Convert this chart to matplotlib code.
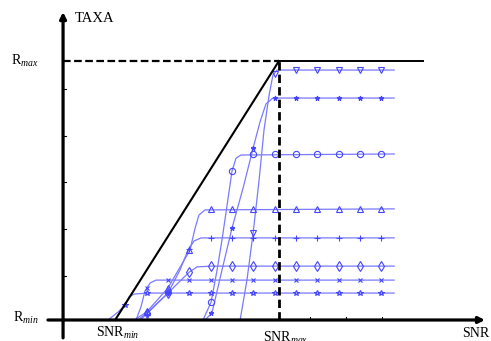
import matplotlib
matplotlib.use("Agg")
import matplotlib.pyplot as plt

plt.rcParams['font.family'] = ['Liberation Serif', 'DejaVu Serif']
plt.rcParams['mathtext.fontset'] = 'custom'
plt.rcParams['mathtext.rm'] = 'Liberation Serif'
plt.rcParams['mathtext.it'] = 'Liberation Serif:italic'
plt.rcParams['lines.scale_dashes'] = False

# ---- schematic limits (SNR in arbitrary steps, rate normalised Rmin=0, Rmax=1)
snr_min = 0.52
snr_max = 8.2
r_min = 0.0
r_max = 1.0
plateau_end = 13.6
rmax_line_end = 14.96
axis_x = -1.92
x_axis_start = -2.63
x_axis_end = 17.86
y_axis_bottom = -0.069
y_axis_top = 1.189
ytick_vals = [0.892, 0.710, 0.533, 0.351, 0.170]
xtick_vals = [9.66, 11.35, 13.03]

# ---- curve data (x, y) and marker data for each scheme
stars_x = [0.19, 0.66, 1.0, 1.17, 1.41, 2.0, 13.6]
stars_y = [0.0, 0.031, 0.058, 0.089, 0.100, 0.104, 0.104]
stars_mx = [1, 2, 3, 4, 5, 6, 7, 8, 9, 10, 11, 12, 13]
stars_my = [0.058] + [0.104] * 12

xm_x = [1.5, 1.73, 1.92, 2.16, 2.44, 13.6]
xm_y = [0.0, 0.050, 0.112, 0.143, 0.154, 0.154]
xm_mx = [2, 3, 4, 5, 6, 7, 8, 9, 10, 11, 12, 13]
xm_my = [0.125] + [0.154] * 11

dia_x = [1.59, 2.0, 3.0, 3.66, 4.0, 4.36, 5.0, 13.6]
dia_y = [0.0, 0.027, 0.104, 0.158, 0.185, 0.205, 0.208, 0.208]
dia_mx = [2, 3, 4, 5, 6, 7, 8, 9, 10, 11, 12, 13]
dia_my = [0.027, 0.104, 0.185] + [0.208] * 9

plus_x = [1.69, 2.0, 3.0, 3.56, 3.94, 4.22, 4.55, 13.6]
plus_y = [0.0, 0.023, 0.104, 0.193, 0.270, 0.305, 0.317, 0.317]
plus_mx = [2, 3, 4, 5, 6, 7, 8, 9, 10, 11, 12, 13]
plus_my = [0.023, 0.104, 0.275] + [0.317] * 9

tri_x = [1.41, 2.0, 3.0, 4.03, 4.27, 4.45, 4.73, 13.6]
tri_y = [0.0, 0.031, 0.124, 0.270, 0.355, 0.405, 0.425, 0.429]
tri_mx = [2, 3, 4, 5, 6, 7, 8, 9, 10, 11, 12, 13]
tri_my = [0.031, 0.124, 0.270] + [0.429] * 9

circ_x = [4.64, 5.02, 5.3, 5.53, 5.77, 6.0, 6.19, 6.42, 13.6]
circ_y = [0.0, 0.069, 0.193, 0.309, 0.444, 0.575, 0.625, 0.637, 0.641]
circ_mx = [5, 6, 7, 8, 9, 10, 11, 12, 13]
circ_my = [0.069, 0.575] + [0.641] * 7

ast_x = [4.73, 5.06, 5.53, 6.0, 6.52, 6.99, 7.31, 7.59, 7.92, 13.6]
ast_y = [0.0, 0.027, 0.193, 0.355, 0.510, 0.664, 0.764, 0.834, 0.857, 0.857]
ast_mx = [5, 6, 7, 8, 9, 10, 11, 12, 13]
ast_my = [0.027, 0.355, 0.664] + [0.857] * 6

tdn_x = [6.38, 6.7, 6.99, 7.27, 7.5, 7.74, 7.92, 8.11, 13.6]
tdn_y = [0.0, 0.154, 0.336, 0.541, 0.734, 0.869, 0.946, 0.965, 0.965]
tdn_mx = [7, 8, 9, 10, 11, 12, 13]
tdn_my = [0.336, 0.95] + [0.965] * 5

series = [
    (stars_x, stars_y, stars_mx, stars_my, '*', 4.0, 'none'),
    (xm_x, xm_y, xm_mx, xm_my, 'x', 3.0, 'none'),
    (dia_x, dia_y, dia_mx, dia_my, 'd', 5.0, 'none'),
    (plus_x, plus_y, plus_mx, plus_my, '+', 4.0, 'none'),
    (tri_x, tri_y, tri_mx, tri_my, '^', 4.5, 'none'),
    (circ_x, circ_y, circ_mx, circ_my, 'o', 4.5, 'none'),
    (ast_x, ast_y, ast_mx, ast_my, '*', 3.5, 'fill'),
    (tdn_x, tdn_y, tdn_mx, tdn_my, 'v', 4.5, 'none'),
]

fig = plt.figure(figsize=(4.91, 3.41), dpi=100)
ax = fig.add_axes([0, 0, 1, 1])
ax.set_xlim(-4.876, 18.14)
ax.set_ylim(-0.0811, 1.2355)
ax.axis('off')

line_col = '#7a7aff'
mark_col = '#4545ff'
for sx, sy, mx, my, mk, ms, fill in series:
    ax.plot(sx, sy, color=line_col, lw=0.9, zorder=2)
    ax.plot(mx, my, ls='none', marker=mk, ms=ms, mec=mark_col,
            mfc=(mark_col if fill == 'fill' else 'none'), mew=0.8, zorder=3)

# reference lines
ax.plot([snr_min, snr_max], [r_min, r_max], color='k', lw=1.5, zorder=4)
ax.plot([axis_x, snr_max], [r_max, r_max], color='k', lw=1.6,
        dashes=(5.5, 2.5), zorder=4)
ax.plot([snr_max, rmax_line_end], [r_max, r_max], color='k', lw=1.4, zorder=4)
ax.plot([snr_max, snr_max], [r_min, r_max], color='k', lw=2.0,
        dashes=(6, 3), zorder=4)

# axes with arrows
ax.annotate('', xy=(axis_x, y_axis_top), xytext=(axis_x, y_axis_bottom),
            arrowprops=dict(arrowstyle='-|>', lw=2.3, color='k',
                            mutation_scale=9, shrinkA=0, shrinkB=0), zorder=5)
ax.annotate('', xy=(x_axis_end, r_min), xytext=(x_axis_start, r_min),
            arrowprops=dict(arrowstyle='-|>', lw=2.3, color='k',
                            mutation_scale=9, shrinkA=0, shrinkB=0), zorder=5)
for yt in ytick_vals:
    ax.plot([axis_x, axis_x + 0.15], [yt, yt], color='k', lw=0.8)
for xt in xtick_vals:
    ax.plot([xt, xt], [r_min, r_min + 0.012], color='k', lw=0.8)

fs = 10
ax.text(axis_x + 0.56, 1.166, 'TAXA', fontsize=10.5, ha='left', va='center')
ax.text(-3.7, r_max, r'R$_{max}$', fontsize=fs, ha='center', va='center')
ax.text(-3.66, 0.006, r'R$_{min}$', fontsize=fs, ha='center', va='center')
ax.text(0.62, -0.050, r'SNR$_{min}$', fontsize=fs, ha='center', va='center')
ax.text(8.53, -0.068, r'SNR$_{max}$', fontsize=fs, ha='center', va='center')
ax.text(17.44, -0.054, 'SNR', fontsize=fs, ha='center', va='center')

fig.savefig('out.png', dpi=100)
